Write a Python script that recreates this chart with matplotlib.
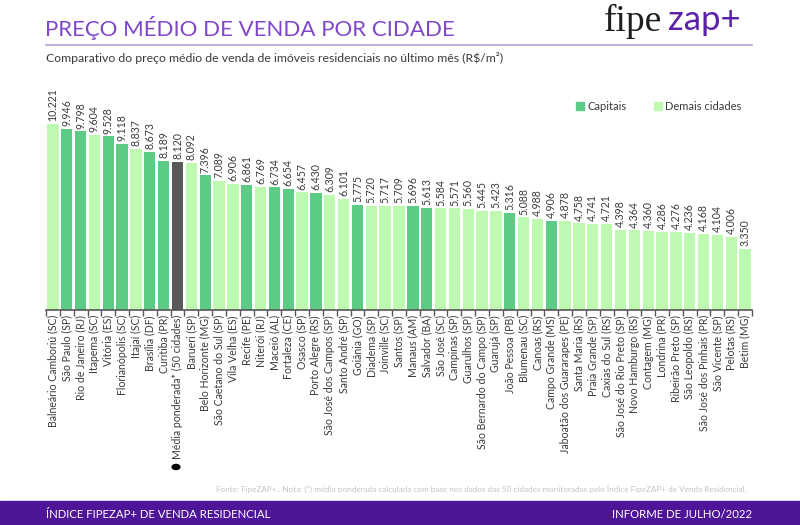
import matplotlib
matplotlib.use("Agg")
import matplotlib.pyplot as plt
from matplotlib.patches import Rectangle, Circle
from matplotlib.lines import Line2D

cities = ["Balneário Camboriú (SC)", "São Paulo (SP)", "Rio de Janeiro (RJ)", "Itapema (SC)",
          "Vitória (ES)", "Florianópolis (SC)", "Itajaí (SC)", "Brasília (DF)", "Curitiba (PR)",
          "Média ponderada* (50 cidades)", "Barueri (SP)", "Belo Horizonte (MG)",
          "São Caetano do Sul (SP)", "Vila Velha (ES)", "Recife (PE)", "Niterói (RJ)",
          "Maceió (AL)", "Fortaleza (CE)", "Osasco (SP)", "Porto Alegre (RS)",
          "São José dos Campos (SP)", "Santo André (SP)", "Goiânia (GO)", "Diadema (SP)",
          "Joinville (SC)", "Santos (SP)", "Manaus (AM)", "Salvador (BA)", "São José (SC)",
          "Campinas (SP)", "Guarulhos (SP)", "São Bernardo do Campo (SP)", "Guarujá (SP)",
          "João Pessoa (PB)", "Blumenau (SC)", "Canoas (RS)", "Campo Grande (MS)",
          "Jaboatão dos Guararapes (PE)", "Santa Maria (RS)", "Praia Grande (SP)",
          "Caxias do Sul (RS)", "São José do Rio Preto (SP)", "Novo Hamburgo (RS)",
          "Contagem (MG)", "Londrina (PR)", "Ribeirão Preto (SP)", "São Leopoldo (RS)",
          "São José dos Pinhais (PR)", "São Vicente (SP)", "Pelotas (RS)", "Betim (MG)"]
prices = [10221, 9946, 9798, 9604, 9528, 9118, 8837, 8673, 8189, 8120, 8092, 7396, 7089,
          6906, 6861, 6769, 6734, 6654, 6457, 6430, 6309, 6101, 5775, 5720, 5717, 5709,
          5696, 5613, 5584, 5571, 5560, 5445, 5423, 5316, 5088, 4988, 4906, 4878, 4758,
          4741, 4721, 4398, 4364, 4360, 4286, 4276, 4236, 4168, 4104, 4006, 3350]
# C = capital, D = demais cidades, M = média
groups = ["D", "C", "C", "D", "C", "C", "D", "C", "C", "M", "D", "C", "D", "D", "C", "D",
          "C", "C", "D", "C", "D", "D", "C", "D", "D", "D", "C", "C", "D", "D", "D", "D",
          "D", "C", "D", "D", "C", "D", "D", "D", "D", "D", "D", "D", "D", "D", "D", "D",
          "D", "D", "D"]
legend_labels = ["Capitais", "Demais cidades"]

COL = {"C": "#5ccb86", "D": "#bdf9b0", "M": "#595959"}
PURPLE = "#7b3fc4"
TXT = "#3a3a3a"
FONT = ["Lato", "DejaVu Sans"]
plt.rcParams['font.family'] = FONT

fig = plt.figure(figsize=(8, 5.25), dpi=100)
W, H = 800, 525

def fx(px):
    return px / W

def fy(py):
    return 1 - py / H

# Axes
ax = fig.add_axes([fx(46), fy(310), fx(752) - fx(46), fy(95) - fy(310)])
n = len(cities)
xs = list(range(n))
colors = [COL[g] for g in groups]
ax.bar(xs, prices, width=0.82, color=colors, zorder=2)
ax.set_xlim(-0.5, n - 0.5)
ax.set_ylim(0, 11800)
for s in ["top", "right", "left"]:
    ax.spines[s].set_visible(False)
ax.spines["bottom"].set_color("#555555")
ax.spines["bottom"].set_linewidth(1.2)
ax.set_yticks([])
ax.set_xticks([i - 0.5 for i in range(n + 1)], minor=False)
ax.set_xticklabels([])
ax.tick_params(axis="x", length=4, color="#555555", width=1)
for i, (c, v) in enumerate(zip(cities, prices)):
    ax.text(i, -280, c, rotation=90, ha="center", va="top", fontsize=7.6, color=TXT)
    lab = f"{v:,}".replace(",", ".")
    ax.text(i, v + 150, lab, rotation=90, ha="center", va="bottom", fontsize=7.6, color=TXT)

# Black dot under media label
fig.patches.append(Circle((fx(176), fy(467)), 0.0048, transform=fig.transFigure, color="black"))

# Legend
h1 = Rectangle((0, 0), 1, 1, color=COL["C"])
h2 = Rectangle((0, 0), 1, 1, color=COL["D"])
fig.legend([h1, h2], legend_labels, loc="center left", bbox_to_anchor=(fx(566), fy(106)),
           ncol=2, frameon=False, fontsize=8, handlelength=0.7, handleheight=0.7,
           handletextpad=0.3, columnspacing=2.5, labelcolor=TXT)

# Title and header
fig.text(fx(45), fy(28), "PREÇO MÉDIO DE VENDA POR CIDADE", fontsize=16, color="#8047c8",
         va="center", ha="left")
fig.add_artist(Line2D([fx(46), fx(752)], [fy(45), fy(45)], color="#b9a0dc",
                      lw=1.2, transform=fig.transFigure))
fig.text(fx(46), fy(58), "Comparativo do preço médio de venda de imóveis residenciais no último mês (R$/m²)",
         fontsize=8.8, color=TXT, va="center", ha="left")

# Logo
t_fipe = fig.text(fx(604), fy(21), "fipe", fontsize=27, family="Liberation Serif", color="#1e1e1e",
                  va="center", ha="left")
fig.text(fx(668), fy(20), "zap+", fontsize=25, color="#5b22a8", va="center", ha="left")

# Source note
fig.text(fx(746), fy(489), "Fonte: FipeZAP+.. Nota: (*) média ponderada calculada com base nos dados das 50 cidades monitoradas pelo Índice FipeZAP+ de Venda Residencial.",
         fontsize=5.9, color="#c4c4c4", ha="right", va="center")

# Footer band
fig.patches.append(Rectangle((0, 0), 1, fy(501), transform=fig.transFigure,
                             color="#4f1599", zorder=0))
fig.text(fx(46), fy(514), "ÍNDICE FIPEZAP+ DE VENDA RESIDENCIAL", fontsize=8.2, color="white",
         ha="left", va="center")
fig.text(fx(752), fy(514), "INFORME DE JULHO/2022", fontsize=8.2, color="white",
         ha="right", va="center")

fig.savefig("out.png", dpi=100)
